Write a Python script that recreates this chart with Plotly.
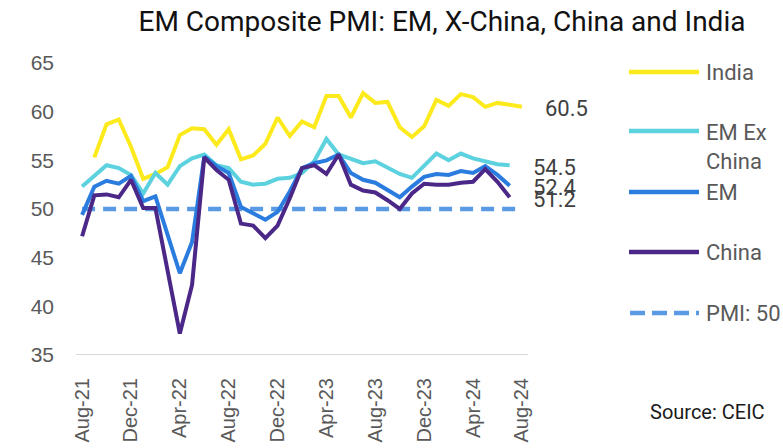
import plotly.graph_objects as go

# Monthly composite PMI readings, Aug-21 .. Aug-24
months = ["Aug-21", "Sep-21", "Oct-21", "Nov-21", "Dec-21",
          "Jan-22", "Feb-22", "Mar-22", "Apr-22", "May-22", "Jun-22",
          "Jul-22", "Aug-22", "Sep-22", "Oct-22", "Nov-22", "Dec-22",
          "Jan-23", "Feb-23", "Mar-23", "Apr-23", "May-23", "Jun-23",
          "Jul-23", "Aug-23", "Sep-23", "Oct-23", "Nov-23", "Dec-23",
          "Jan-24", "Feb-24", "Mar-24", "Apr-24", "May-24", "Jun-24",
          "Jul-24", "Aug-24"]

india = [None, 55.3, 58.7, 59.2, 56.4, 53.1, 53.6, 54.3, 57.6, 58.3, 58.2,
         56.6, 58.2, 55.1, 55.5, 56.7, 59.4, 57.5, 59.0, 58.4, 61.6, 61.6,
         59.4, 61.9, 60.9, 61.0, 58.4, 57.4, 58.5, 61.2, 60.6, 61.8, 61.5,
         60.5, 60.9, 60.7, 60.5]

em_ex_china = [52.3, 53.4, 54.5, 54.2, 53.5, 51.6, 53.7, 52.5, 54.4, 55.2,
               55.6, 54.5, 54.2, 52.8, 52.5, 52.6, 53.1, 53.2, 53.7, 54.9,
               57.2, 55.6, 55.2, 54.7, 54.9, 54.3, 53.6, 53.2, 54.4, 55.7,
               55.0, 55.7, 55.2, 54.9, 54.6, 54.5, None]

em = [49.4, 52.3, 52.9, 52.6, 53.4, 50.8, 51.3, 47.3, 43.4, 46.6, 55.4,
      54.4, 53.7, 50.2, 49.6, 48.9, 49.7, 51.8, 54.2, 54.7, 55.0, 55.6,
      53.7, 53.0, 52.7, 52.0, 51.2, 52.3, 53.3, 53.6, 53.5, 53.9, 53.7,
      54.4, 53.5, 52.4, None]

china = [47.2, 51.4, 51.5, 51.2, 53.0, 50.1, 50.1, 43.9, 37.2, 42.2, 55.3,
         54.0, 53.0, 48.5, 48.3, 47.0, 48.3, 51.1, 54.2, 54.5, 53.6, 55.6,
         52.5, 51.9, 51.7, 50.9, 50.0, 51.6, 52.6, 52.5, 52.5, 52.7, 52.8,
         54.1, 52.8, 51.2, None]

pmi_threshold = 50
tick_months = ["Aug-21", "Dec-21", "Apr-22", "Aug-22", "Dec-22", "Apr-23",
               "Aug-23", "Dec-23", "Apr-24", "Aug-24"]
y_ticks = [35, 40, 45, 50, 55, 60, 65]

C_INDIA = "#FCEA1C"
C_EXCH = "#5CD2DF"
C_EM = "#2B7CDF"
C_CHINA = "#4B2888"
C_PMI = "#5A9AE5"

series = [
    ("India", india, C_INDIA),
    ("EM Ex China", em_ex_china, C_EXCH),
    ("EM", em, C_EM),
    ("China", china, C_CHINA),
]

fig = go.Figure()

fig.add_trace(go.Scatter(
    x=months, y=[pmi_threshold] * len(months), mode="lines",
    name="PMI: 50", showlegend=False, hoverinfo="skip",
    line=dict(color=C_PMI, width=4.5, dash="13px,8px"),
))

for name, vals, col in series:
    fig.add_trace(go.Scatter(
        x=months, y=vals, mode="lines", name=name, showlegend=False,
        line=dict(color=col, width=4), connectgaps=False,
    ))

# End-of-series value labels
for name, vals, col in series:
    idx = max(i for i, v in enumerate(vals) if v is not None)
    fig.add_annotation(
        x=months[idx], y=vals[idx], text=f"{vals[idx]:.1f}",
        xref="x", yref="y", xanchor="left", yanchor="middle",
        xshift=21, yshift=-2, showarrow=False,
        font=dict(family="Roboto", size=22, color="#404040"),
    )

# Legend drawn at the right of the plot (paper coordinates)
PL, PR, PT, PB = 76, 528, 63, 355
def px_x(px):
    return (px - PL) / (PR - PL)
def px_y(py):
    return (PB - py) / (PB - PT)

legend_items = [
    ("India", C_INDIA, 72, "solid", 72),
    ("EM Ex<br>China", C_EXCH, 131, "solid", 147),
    ("EM", C_EM, 192, "solid", 192),
    ("China", C_CHINA, 252, "solid", 252),
    ("PMI: 50", C_PMI, 313, "dash", 313),
]
for label, col, ly, style, ty in legend_items:
    if style == "solid":
        fig.add_shape(type="line", xref="paper", yref="paper",
                      x0=px_x(629), x1=px_x(699), y0=px_y(ly), y1=px_y(ly),
                      line=dict(color=col, width=4.5))
    else:
        fig.add_shape(type="line", xref="paper", yref="paper",
                      x0=px_x(630), x1=px_x(699), y0=px_y(ly), y1=px_y(ly),
                      line=dict(color=col, width=4.5, dash="15px,7px"))
    fig.add_annotation(
        x=px_x(704), y=px_y(ty), xref="paper", yref="paper",
        text=label, showarrow=False, xanchor="left", yanchor="middle",
        align="left", font=dict(family="Roboto", size=22, color="#595959"),
    )

fig.add_annotation(
    x=px_x(767), y=px_y(412), xref="paper", yref="paper",
    text="Source: CEIC", showarrow=False, xanchor="right", yanchor="middle",
    font=dict(family="Roboto", size=20, color="#1a1a1a"),
)

fig.update_layout(
    width=783, height=448,
    margin=dict(l=PL, r=783 - PR, t=PT, b=448 - PB),
    paper_bgcolor="white", plot_bgcolor="white",
    title=dict(text="EM Composite PMI: EM, X-China, China and India",
               x=442 / 783, xanchor="center", y=1 - 21 / 448, yanchor="middle",
               font=dict(family="Roboto", size=28, color="#111111")),
    showlegend=False,
)

fig.update_xaxes(
    type="category", categoryorder="array", categoryarray=months,
    tickmode="array", tickvals=tick_months, ticktext=tick_months,
    tickangle=-90, showgrid=False, zeroline=False, automargin=False,
    showline=False, ticks="", ticklabelstandoff=18,
    tickfont=dict(family="Liberation Sans", size=20, color="#595959"),
    range=[-0.5, len(months) - 0.5],
)
fig.update_yaxes(
    range=[35, 65], tickvals=y_ticks, showgrid=False, zeroline=False,
    showline=False, ticks="", ticklabelstandoff=21, automargin=False,
    tickfont=dict(family="Liberation Sans", size=21, color="#595959"),
)
# Baseline under the plot
fig.add_shape(type="line", xref="paper", yref="y", x0=0, x1=1, y0=35, y1=35,
              line=dict(color="#D9D9D9", width=2), layer="below")

fig.write_html("out.html")
